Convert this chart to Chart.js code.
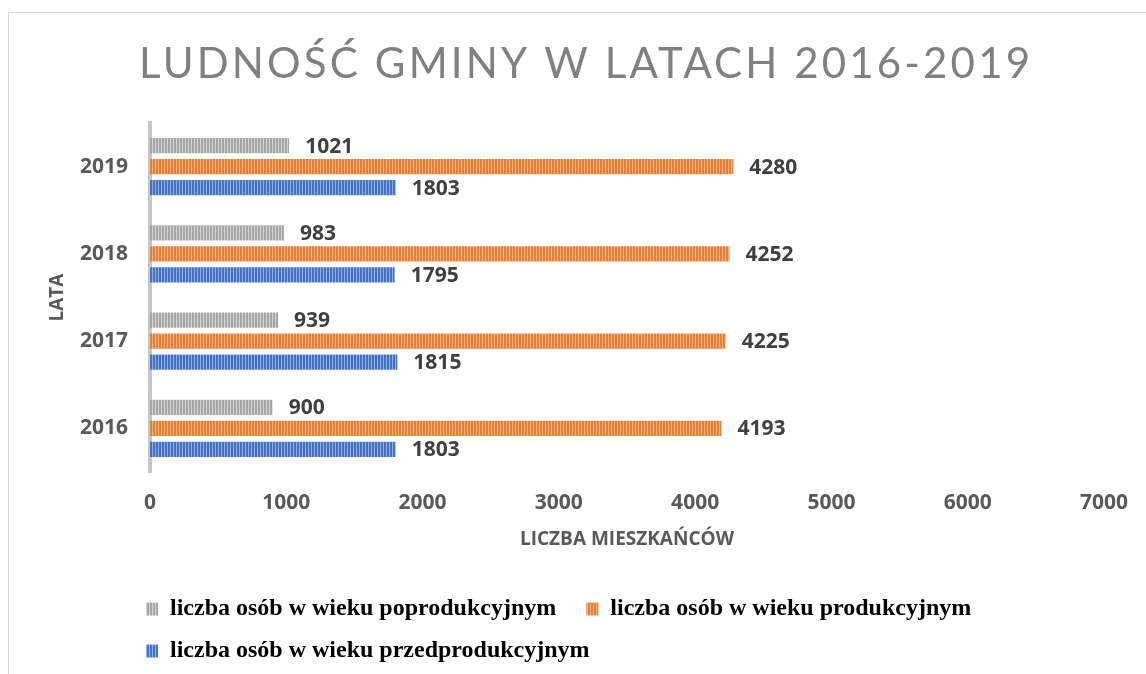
<!DOCTYPE html>
<html><head><meta charset="utf-8">
<script src="https://cdn.jsdelivr.net/npm/chart.js@4.4.1/dist/chart.umd.min.js"></script>
<style>
html,body{margin:0;padding:0;background:#fff;overflow:hidden;width:1146px;height:674px;}
#frame{position:absolute;left:8px;top:12px;width:1200px;height:700px;border:1px solid #d9d9d9;}
#wrap{position:absolute;left:0;top:0;width:1146px;height:674px;}
</style></head><body>
<div id="frame"></div>
<div id="wrap"><canvas id="c" width="1146" height="674"></canvas></div>
<script>
const titleText = 'LUDNOŚĆ GMINY W LATACH 2016-2019';
const categories = ['2019', '2018', '2017', '2016'];
const seriesNames = ['liczba osób w wieku poprodukcyjnym', 'liczba osób w wieku produkcyjnym', 'liczba osób w wieku przedprodukcyjnym'];
const poprodukcyjny = [1021, 983, 939, 900];
const produkcyjny = [4280, 4252, 4225, 4193];
const przedprodukcyjny = [1803, 1795, 1815, 1803];
const xTicks = [0, 1000, 2000, 3000, 4000, 5000, 6000, 7000];
const xTitle = 'LICZBA MIESZKAŃCÓW';
const yTitle = 'LATA';

function stripes(dark, light) {
  const p = document.createElement('canvas');
  p.width = 3; p.height = 4;
  const g = p.getContext('2d');
  g.fillStyle = dark; g.fillRect(0, 0, 2, 4);
  g.fillStyle = light; g.fillRect(2, 0, 1, 4);
  return document.getElementById('c').getContext('2d').createPattern(p, 'repeat');
}
const grayFill = stripes('#a6a6a6', '#d6d6d6');
const orangeFill = stripes('#ed7d31', '#f6b68a');
const blueFill = stripes('#4472c4', '#94b0e0');

const seriesData = [poprodukcyjny, produkcyjny, przedprodukcyjny];
const fills = [grayFill, orangeFill, blueFill];

const custom = {
  id: 'custom',
  afterLayout(chart) {
    const lg = chart.legend;
    if (!lg) return;
    const dx = 146 - (lg.left + lg.options.labels.padding);
    lg.left += dx; lg.right += dx;
  },
  afterDatasetsDraw(chart) {
    const ctx = chart.ctx;
    ctx.save();
    ctx.font = 'bold 21px "Open Sans", sans-serif';
    ctx.fillStyle = '#404040';
    ctx.textAlign = 'left';
    ctx.textBaseline = 'middle';
    chart.data.datasets.forEach((ds, i) => {
      const meta = chart.getDatasetMeta(i);
      meta.data.forEach((bar, j) => {
        ctx.fillText(String(ds.data[j]), bar.x + 16, bar.y + 1);
      });
    });
    ctx.restore();
  },
  afterDraw(chart) {
    const ctx = chart.ctx;
    ctx.save();
    ctx.font = '400 42px Lato, "Open Sans", sans-serif';
    ctx.fillStyle = '#808080';
    ctx.textAlign = 'left';
    ctx.textBaseline = 'alphabetic';
    const w = ctx.measureText(titleText).width;
    const n = Array.from(titleText).length;
    const ls = (891 - w) / (n - 1);
    ctx.letterSpacing = ls + 'px';
    ctx.fillText(titleText, 139, 78);
    ctx.restore();
  }
};

new Chart(document.getElementById('c'), {
  type: 'bar',
  data: {
    labels: categories,
    datasets: seriesNames.map((name, i) => ({
      label: name,
      data: seriesData[i],
      backgroundColor: fills[i],
      borderWidth: 0,
      categoryPercentage: 0.72,
      barPercentage: 0.73
    }))
  },
  options: {
    indexAxis: 'y',
    responsive: false,
    devicePixelRatio: 1,
    animation: false,
    layout: { padding: { top: 123, right: 35, bottom: 1, left: 0 } },
    scales: {
      x: {
        type: 'linear',
        min: 0, max: 7000,
        afterBuildTicks: s => { s.ticks = xTicks.map(v => ({ value: v })); },
        afterFit: s => { s.height = 107; },
        grid: { display: false, drawTicks: false },
        border: { display: false },
        ticks: { padding: 18, color: '#595959', callback: v => String(v), font: { family: '"Open Sans", sans-serif', weight: 'bold', size: 21 } },
        title: { display: true, text: xTitle, color: '#595959', padding: { top: 0, bottom: 28 }, font: { family: '"Open Sans", sans-serif', weight: 'bold', size: 19 } }
      },
      y: {
        z: 1,
        afterFit: s => { s.width = 150; },
        grid: { display: false, drawTicks: false },
        border: { display: true, color: '#c6c6c6', width: 4 },
        ticks: { padding: 22, color: '#595959', font: { family: '"Open Sans", sans-serif', weight: 'bold', size: 21 } },
        title: { display: true, text: yTitle, color: '#595959', padding: { top: 46, bottom: 0 }, font: { family: '"Open Sans", sans-serif', weight: 'bold', size: 19 } }
      }
    },
    plugins: {
      title: { display: false },
      tooltip: { enabled: false },
      legend: {
        display: true,
        position: 'bottom',
        align: 'start',
        labels: {
          boxWidth: 12,
          boxHeight: 13,
          padding: 18,
          color: '#000000',
          font: { family: '"Liberation Serif", "Times New Roman", serif', weight: 'bold', size: 24 },
          generateLabels: chart => {
            const items = Chart.defaults.plugins.legend.labels.generateLabels(chart);
            items.forEach((it, i) => {
              it.lineWidth = 0;
              it.strokeStyle = 'rgba(0,0,0,0)';
              if (i === 0) it.text = it.text + '\u00a0\u00a0';
            });
            return items;
          }
        }
      }
    }
  },
  plugins: [custom]
});
</script>
</body></html>
